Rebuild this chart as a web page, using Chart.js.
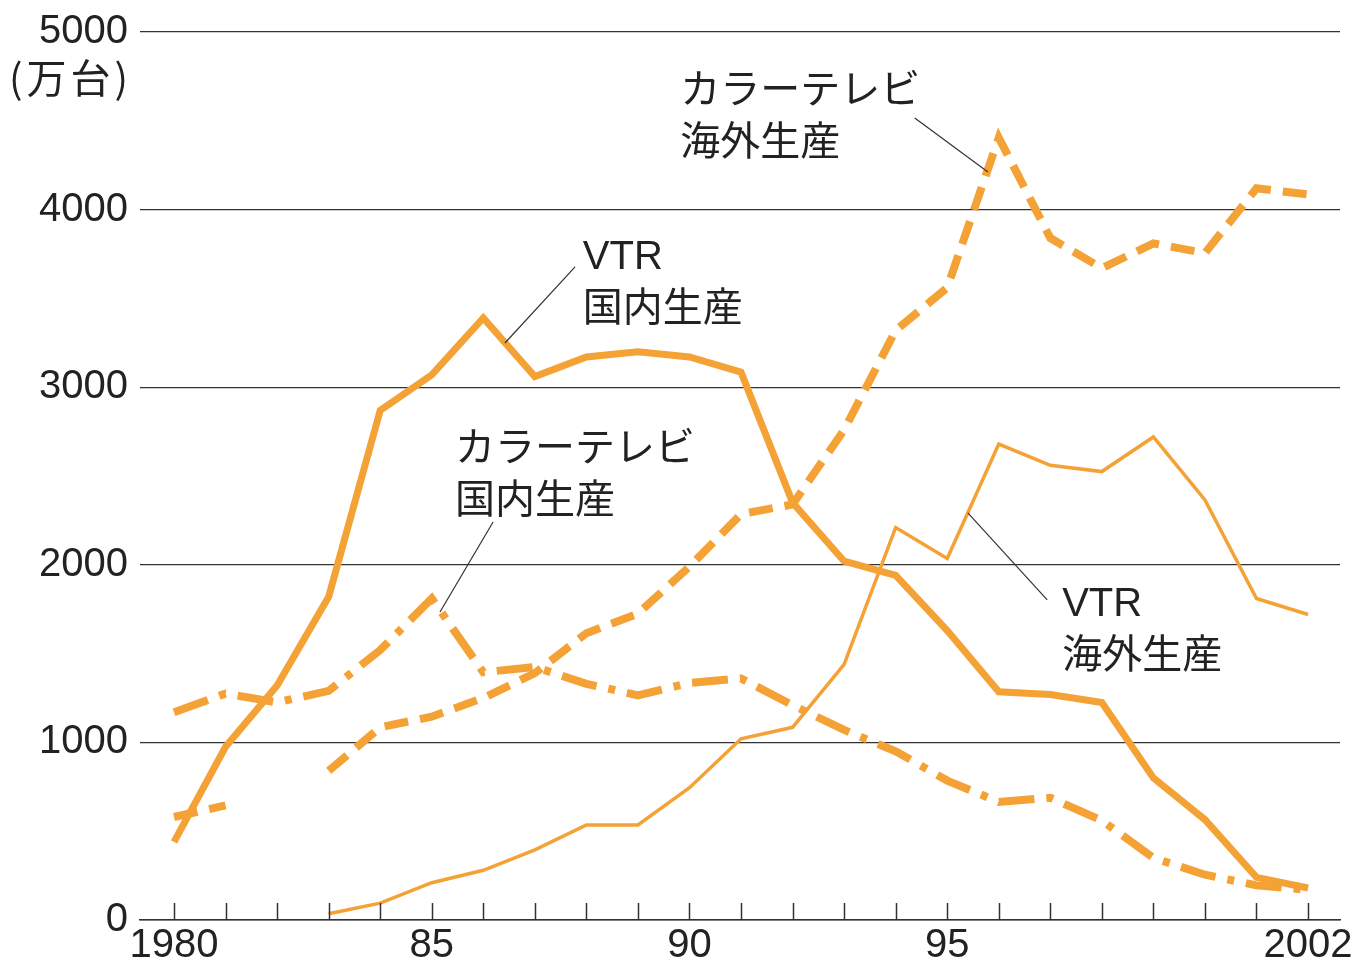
<!DOCTYPE html>
<html>
<head>
<meta charset="utf-8">
<script src="https://cdn.jsdelivr.net/npm/chart.js@4"></script>
<style>
  html, body { margin: 0; padding: 0; background: #fff; }
  #wrap { width: 1360px; height: 964px; }
</style>
</head>
<body>
<div id="wrap"><canvas id="chart" width="1360" height="964"></canvas></div>
<script>
// --- data (万台)
var years = [1980, 1981, 1982, 1983, 1984, 1985, 1986, 1987, 1988, 1989, 1990, 1991,
             1992, 1993, 1994, 1995, 1996, 1997, 1998, 1999, 2000, 2001, 2002];

var vtrDomestic = [440, 975, 1320, 1820, 2870, 3070, 3390, 3060, 3170, 3200, 3170, 3085,
                   2350, 2020, 1940, 1630, 1285, 1270, 1225, 800, 565, 240, 180];

var vtrOverseas = [null, null, null, 35, 95, 210, 280, 395, 535, 535, 745, 1020,
                   1085, 1440, 2210, 2035, 2680, 2560, 2525, 2720, 2365, 1810, 1720];

var tvDomestic = [1170, 1275, 1225, 1290, 1520, 1810, 1395, 1425, 1330, 1265, 1335, 1360,
                  1210, 1070, 950, 785, 665, 688, 560, 350, 255, 195, 170];

var tvOverseas = [580, 645, null, 840, 1085, 1145, 1250, 1390, 1615, 1725, 1990, 2285,
                  2340, 2760, 3320, 3560, 4405, 3840, 3670, 3810, 3755, 4120, 4085];

var yTicks = [0, 1000, 2000, 3000, 4000, 5000];
var xLabelYears = [1980, 1985, 1990, 1995, 2002];
var xLabels = ['1980', '85', '90', '95', '2002'];

// label text with anchor (data units) and leader line ends
var notes = [
  { lines: ['カラーテレビ', '海外生産'], x: 1989.82, y: 4662, from: [1994.37, 4516], to: [1995.79, 4212] },
  { lines: ['VTR', '国内生産'], x: 1987.93, y: 3727, from: [1987.78, 3677], to: [1986.42, 3249] },
  { lines: ['カラーテレビ', '国内生産'], x: 1985.45, y: 2646, from: [1986.19, 2241], to: [1985.16, 1734] },
  { lines: ['VTR', '海外生産'], x: 1997.23, y: 1774, from: [1995.40, 2292], to: [1996.94, 1802] }
];

var ORANGE = '#F4A236';
var INK = '#222';
var FONT_FAMILY = '"Liberation Sans", "Noto Sans CJK JP", sans-serif';

function toPoints(vals) {
  return years.map(function (yr, i) { return { x: yr, y: vals[i] }; });
}

// small year ticks standing on the x axis, labels and leader lines
var extrasPlugin = {
  id: 'extras',
  afterDraw: function (chart) {
    var ctx = chart.ctx;
    var xs = chart.scales.x, ys = chart.scales.y;
    var base = ys.getPixelForValue(0);
    ctx.save();
    ctx.strokeStyle = '#333';
    ctx.lineWidth = 1.5;
    years.forEach(function (yr) {
      var px = Math.round(xs.getPixelForValue(yr)) + 0.5;
      ctx.beginPath();
      ctx.moveTo(px, base);
      ctx.lineTo(px, base - 17);
      ctx.stroke();
    });

    // unit
    ctx.fillStyle = INK;
    ctx.font = '40px "Noto Sans CJK JP", sans-serif';
    ctx.letterSpacing = '4px';
    ctx.textAlign = 'right';
    ctx.textBaseline = 'middle';
    ctx.fillText('(万台)', chart.chartArea.left - 8, ys.getPixelForValue(4740));
    ctx.letterSpacing = '0px';

    // annotations
    ctx.font = '40px ' + FONT_FAMILY;
    ctx.textAlign = 'left';
    notes.forEach(function (n) {
      var tx = xs.getPixelForValue(n.x);
      var ty = ys.getPixelForValue(n.y);
      n.lines.forEach(function (t, i) {
        ctx.fillText(t, tx, ty + i * 52);
      });
      ctx.strokeStyle = '#333';
      ctx.lineWidth = 1.2;
      ctx.beginPath();
      ctx.moveTo(xs.getPixelForValue(n.from[0]), ys.getPixelForValue(n.from[1]));
      ctx.lineTo(xs.getPixelForValue(n.to[0]), ys.getPixelForValue(n.to[1]));
      ctx.stroke();
    });
    ctx.restore();
  }
};

var ctx = document.getElementById('chart').getContext('2d');
new Chart(ctx, {
  type: 'line',
  data: {
    datasets: [
      { label: 'カラーテレビ海外生産', data: toPoints(tvOverseas), borderColor: ORANGE, borderWidth: 8,
        borderDash: [24, 12], spanGaps: false },
      { label: 'カラーテレビ国内生産', data: toPoints(tvDomestic), borderColor: ORANGE, borderWidth: 8,
        borderDash: [36, 12, 7, 12] },
      { label: 'VTR海外生産', data: toPoints(vtrOverseas), borderColor: ORANGE, borderWidth: 3.5 },
      { label: 'VTR国内生産', data: toPoints(vtrDomestic), borderColor: ORANGE, borderWidth: 7 }
    ]
  },
  options: {
    responsive: false,
    animation: false,
    layout: { padding: { top: 32, right: 20, left: 0, bottom: 0 } },
    elements: {
      point: { radius: 0, hoverRadius: 0 },
      line: { tension: 0, fill: false, borderCapStyle: 'butt', borderJoinStyle: 'miter' }
    },
    plugins: {
      legend: { display: false },
      tooltip: { enabled: false }
    },
    scales: {
      x: {
        type: 'linear',
        min: 1979.34,
        max: 2002.62,
        afterFit: function (s) { s.height = 44; },
        afterBuildTicks: function (s) {
          s.ticks = xLabelYears.map(function (v) { return { value: v }; });
        },
        ticks: {
          autoSkip: false,
          maxRotation: 0,
          padding: 2,
          color: INK,
          font: { family: FONT_FAMILY, size: 40 },
          callback: function (v) { return xLabels[xLabelYears.indexOf(v)]; }
        },
        grid: { display: false, drawTicks: false },
        border: { display: true, color: '#333', width: 1.5 }
      },
      y: {
        min: 0,
        max: 5000,
        afterFit: function (s) { s.width = 140; },
        afterBuildTicks: function (s) {
          s.ticks = yTicks.map(function (v) { return { value: v }; });
        },
        ticks: {
          padding: 12,
          color: INK,
          font: { family: FONT_FAMILY, size: 40, lineHeight: 1 },
          callback: function (v) { return String(v); }
        },
        grid: { color: '#333', lineWidth: 1.2, drawTicks: false },
        border: { display: false }
      }
    }
  },
  plugins: [extrasPlugin]
});
</script>
</body>
</html>
